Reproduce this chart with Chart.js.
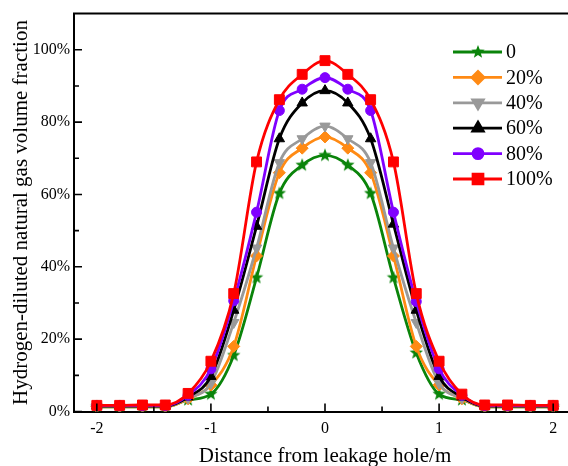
<!DOCTYPE html>
<html>
<head>
<meta charset="utf-8">
<script src="https://cdn.jsdelivr.net/npm/chart.js@4/dist/chart.umd.min.js"></script>
<style>
  html, body { margin: 0; padding: 0; background: #fff; overflow: hidden; }
  #wrap { width: 590px; height: 466px; }
</style>
</head>
<body>
<div id="wrap"><canvas id="chart" width="590" height="466"></canvas></div>
<script>
// distance from leakage hole (m)
const distance = [-2, -1.8, -1.6, -1.4, -1.2, -1.0, -0.8, -0.6, -0.4, -0.2, 0,
                  0.2, 0.4, 0.6, 0.8, 1.0, 1.2, 1.4, 1.6, 1.8, 2];

// volume fraction per hydrogen blend ratio
const h0   = [0.013, 0.013, 0.013, 0.013, 0.032, 0.048, 0.155, 0.370, 0.603, 0.681, 0.708,
              0.681, 0.603, 0.370, 0.162, 0.048, 0.032, 0.013, 0.013, 0.013, 0.013];
const h20  = [0.013, 0.013, 0.013, 0.013, 0.035, 0.073, 0.180, 0.430, 0.660, 0.728, 0.759,
              0.728, 0.660, 0.430, 0.180, 0.073, 0.035, 0.013, 0.013, 0.013, 0.013];
const h40  = [0.014, 0.014, 0.014, 0.014, 0.037, 0.078, 0.246, 0.452, 0.688, 0.754, 0.789,
              0.754, 0.688, 0.452, 0.246, 0.078, 0.037, 0.014, 0.014, 0.014, 0.014];
const h60  = [0.015, 0.015, 0.015, 0.015, 0.040, 0.097, 0.280, 0.512, 0.754, 0.853, 0.887,
              0.853, 0.754, 0.518, 0.280, 0.097, 0.040, 0.015, 0.015, 0.015, 0.015];
const h80  = [0.016, 0.016, 0.016, 0.016, 0.045, 0.118, 0.306, 0.551, 0.832, 0.891, 0.923,
              0.891, 0.832, 0.551, 0.304, 0.118, 0.045, 0.016, 0.016, 0.016, 0.016];
const h100 = [0.017, 0.017, 0.018, 0.018, 0.050, 0.139, 0.326, 0.690, 0.862, 0.932, 0.970,
              0.932, 0.862, 0.690, 0.326, 0.139, 0.048, 0.018, 0.018, 0.017, 0.017];

const seriesLabels = ['0', '20%', '40%', '60%', '80%', '100%'];
const xTicks = [-2, -1, 0, 1, 2];
const xMinor = [-1.5, -0.5, 0.5, 1.5];
const yTicks = [0, 0.2, 0.4, 0.6, 0.8, 1.0];
const yMinor = [0.1, 0.3, 0.5, 0.7, 0.9];

const SERIF = '"Liberation Serif", "Times New Roman", serif';

function starImage(color, r) {
    const c = document.createElement('canvas');
    c.width = c.height = 2 * r + 2;
    const g = c.getContext('2d');
    g.fillStyle = color;
    g.beginPath();
    for (let i = 0; i < 10; i++) {
        const a = -Math.PI / 2 + i * Math.PI / 5;
        const rr = i % 2 ? r * 0.42 : r;
        g.lineTo(r + 1 + rr * Math.cos(a), r + 1 + rr * Math.sin(a));
    }
    g.closePath();
    g.fill();
    return c;
}

const styles = [
    { color: '#0a840a', pointStyle: starImage('#0a840a', 7), radius: 6, rotation: 0 },
    { color: '#ff8a14', pointStyle: 'rectRot', radius: 6, rotation: 0 },
    { color: '#999999', pointStyle: 'triangle', radius: 6, rotation: 180 },
    { color: '#000000', pointStyle: 'triangle', radius: 6, rotation: 0 },
    { color: '#8000ff', pointStyle: 'circle', radius: 5, rotation: 0 },
    { color: '#ff0000', pointStyle: 'rect', radius: 7, rotation: 0 }
];

const values = [h0, h20, h40, h60, h80, h100];

const datasets = values.map((vals, i) => ({
    label: seriesLabels[i],
    data: distance.map((x, j) => ({ x, y: vals[j] })),
    borderColor: styles[i].color,
    backgroundColor: styles[i].color,
    borderWidth: 2.8,
    pointStyle: styles[i].pointStyle,
    pointRadius: styles[i].radius,
    pointRotation: styles[i].rotation,
    pointBackgroundColor: styles[i].color,
    pointBorderColor: styles[i].color,
    pointBorderWidth: 1,
    cubicInterpolationMode: 'monotone',
    order: values.length - 1 - i
}));

// inward ticks + top frame line
const frame = {
    id: 'frame',
    afterDatasetsDraw(chart) {
        const { ctx, chartArea: a, scales: { x, y } } = chart;
        ctx.save();
        ctx.strokeStyle = '#000';
        ctx.lineWidth = 1.6;
        ctx.beginPath();
        xTicks.forEach(v => { const px = x.getPixelForValue(v); ctx.moveTo(px, a.bottom); ctx.lineTo(px, a.bottom - 8); });
        xMinor.forEach(v => { const px = x.getPixelForValue(v); ctx.moveTo(px, a.bottom); ctx.lineTo(px, a.bottom - 5); });
        yTicks.forEach(v => { const py = y.getPixelForValue(v); ctx.moveTo(a.left, py); ctx.lineTo(a.left + 8, py); });
        yMinor.forEach(v => { const py = y.getPixelForValue(v); ctx.moveTo(a.left, py); ctx.lineTo(a.left + 5, py); });
        ctx.stroke();
        ctx.lineWidth = 2;
        ctx.beginPath();
        ctx.moveTo(a.left - 1, a.top);
        ctx.lineTo(a.right + 1, a.top);
        ctx.moveTo(a.right, a.top);
        ctx.lineTo(a.right, a.bottom);
        ctx.stroke();
        ctx.restore();
    }
};

// line + marker legend inside the plot
const legendBox = {
    id: 'legendBox',
    afterDraw(chart) {
        const { ctx } = chart;
        ctx.save();
        ctx.font = '20px ' + SERIF;
        ctx.textBaseline = 'middle';
        ctx.fillStyle = '#000';
        chart.data.datasets.forEach((ds, i) => {
            const yy = 52 + i * 25.4;
            ctx.strokeStyle = ds.borderColor;
            ctx.lineWidth = 2.8;
            ctx.beginPath();
            ctx.moveTo(453, yy);
            ctx.lineTo(502, yy);
            ctx.stroke();
            ctx.fillStyle = ds.borderColor;
            Chart.helpers.drawPoint(ctx, {
                pointStyle: ds.pointStyle, radius: ds.pointRadius,
                rotation: ds.pointRotation, borderWidth: 1
            }, 478, yy);
            ctx.fillStyle = '#000';
            ctx.fillText(ds.label, 506, yy + 1);
        });
        ctx.restore();
    }
};

new Chart(document.getElementById('chart'), {
    type: 'line',
    data: { datasets },
    options: {
        responsive: false,
        animation: false,
        layout: { padding: { top: 10, right: 14, bottom: 0, left: 0 } },
        plugins: { legend: { display: false }, tooltip: { enabled: false } },
        scales: {
            x: {
                type: 'linear',
                min: -2.2,
                max: 2.2,
                afterBuildTicks: s => { s.ticks = xTicks.map(v => ({ value: v })); },
                afterFit: s => { s.height = 54.5; },
                grid: { display: false, drawTicks: false },
                border: { display: true, color: '#000', width: 2 },
                ticks: {
                    padding: 8,
                    color: '#000',
                    font: { family: SERIF, size: 16 },
                    callback: v => String(v)
                },
                title: {
                    display: true,
                    text: 'Distance from leakage hole/m',
                    color: '#000',
                    font: { family: SERIF, size: 21 },
                    padding: { top: 0, bottom: -3 }
                }
            },
            y: {
                min: 0,
                max: 1.1,
                afterBuildTicks: s => { s.ticks = yTicks.map(v => ({ value: v })); },
                afterFit: s => { s.width = 74; },
                grid: { display: false, drawTicks: false },
                border: { display: true, color: '#000', width: 2 },
                ticks: {
                    padding: 4,
                    color: '#000',
                    font: { family: SERIF, size: 16 },
                    callback: v => Math.round(v * 100) + '%'
                },
                title: {
                    display: true,
                    text: 'Hydrogen-diluted natural gas volume fraction',
                    color: '#000',
                    font: { family: SERIF, size: 21 },
                    padding: { top: 9, bottom: 0 }
                }
            }
        }
    },
    plugins: [frame, legendBox]
});
</script>
</body>
</html>
